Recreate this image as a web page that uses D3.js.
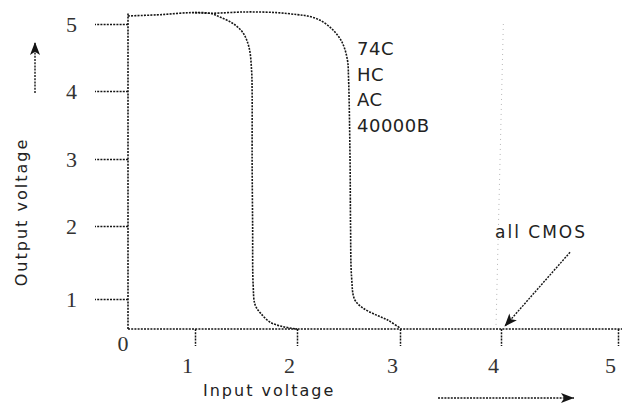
<!DOCTYPE html>
<html><head><meta charset="utf-8">
<script src="https://cdn.jsdelivr.net/npm/d3@7"></script>
<style>body{margin:0;background:#fff} svg{display:block}</style>
</head><body><svg id="c" width="629" height="407"></svg>
<script>
// ---- data ----
const xTicks = [1, 2, 3, 4, 5];
const yTicks = [1, 2, 3, 4, 5];
const xTitle = "Input voltage";
const yTitle = "Output voltage";
const familyLabels = ["74C", "HC", "AC", "40000B"];
const cmosLabel = "all CMOS";
// left transfer curve (input V, output V)
const leftX = [1.0, 1.15, 1.25, 1.37, 1.47, 1.53, 1.555, 1.56, 1.56, 1.565, 1.57, 1.59, 1.65, 1.74, 1.86, 2.0];
const leftY = [5.17, 5.16, 5.1, 5.01, 4.87, 4.65, 4.3, 4.0, 3.0, 2.0, 1.2, 0.8, 0.5, 0.22, 0.08, 0.0];
// right transfer curve (input V, output V)
const rightX = [0, 0.5, 0.95, 1.15, 1.5, 1.8, 2.0, 2.1, 2.22, 2.35, 2.44, 2.49, 2.5, 2.515, 2.52, 2.53, 2.56, 2.64, 2.76, 2.88, 3.0];
const rightY = [5.12, 5.14, 5.17, 5.16, 5.18, 5.17, 5.14, 5.12, 5.06, 4.91, 4.72, 4.46, 4.21, 3.0, 2.0, 1.3, 0.98, 0.7, 0.48, 0.3, 0.03];
// "all CMOS" threshold guide and pointer
const guideX = [4.02, 3.95];
const guideY = [5.0, 0.0];
const pointerX = [4.59, 4.03];
const pointerY = [1.64, 0.08];

// ---- drawing ----
const svg = d3.select("#c");
const x = d3.scaleLinear().domain([0, 1, 2, 3, 4, 5]).range([128, 195, 297, 400, 501, 618]);
const y = d3.scaleLinear().domain([0, 1, 2, 3, 4, 5]).range([329, 299, 226, 159, 91, 24]);

const ink = "#151515";
const dash = "2,1.2";

function arrow(x1, y1, x2, y2) {
  svg.append("line").attr("x1", x1).attr("y1", y1).attr("x2", x2).attr("y2", y2)
    .attr("stroke", ink).attr("stroke-width", 1.4).attr("stroke-dasharray", dash);
  const a = Math.atan2(y2 - y1, x2 - x1), L = 13, W = 5;
  const bx = x2 - L * Math.cos(a), by = y2 - L * Math.sin(a);
  const px = -Math.sin(a) * W, py = Math.cos(a) * W;
  const mx = x2 - L * 0.75 * Math.cos(a), my = y2 - L * 0.75 * Math.sin(a);
  svg.append("path")
    .attr("d", `M${x2},${y2}L${bx + px},${by + py}L${mx},${my}L${bx - px},${by - py}Z`)
    .attr("fill", ink);
}

// guide line
svg.append("line")
  .attr("x1", x(guideX[0])).attr("y1", y(guideY[0]))
  .attr("x2", x(guideX[1])).attr("y2", y(guideY[1]))
  .attr("stroke", "#b8b8b8").attr("stroke-width", 1).attr("stroke-dasharray", "1,4");

// axes
const fmt = d3.format("d");
const xAxis = d3.axisBottom(x).tickValues(xTicks).tickFormat(fmt).tickSize(17).tickPadding(11).tickSizeOuter(0);
const gx = svg.append("g").attr("transform", `translate(0,${y(0)})`).call(xAxis);
const yAxis = d3.axisLeft(y).tickValues(yTicks).tickFormat(fmt).tickSize(33).tickPadding(18).tickSizeOuter(0);
const gy = svg.append("g").attr("transform", `translate(${x(0)},0)`).call(yAxis);
[gx, gy].forEach(g => {
  g.select(".domain").remove();
  g.selectAll(".tick line").attr("stroke", ink).attr("stroke-width", 1.5).attr("stroke-dasharray", dash);
  g.selectAll(".tick text").attr("font-family", "Liberation Serif, serif").attr("font-size", 22).attr("fill", "#333");
});
gx.selectAll(".tick text").attr("dx", -8);
// axis lines
svg.append("line").attr("x1", x(0)).attr("x2", x(5) + 4).attr("y1", y(0)).attr("y2", y(0))
  .attr("stroke", ink).attr("stroke-width", 1.6).attr("stroke-dasharray", dash);
svg.append("line").attr("x1", x(0)).attr("x2", x(0)).attr("y1", y(0)).attr("y2", y(5.17))
  .attr("stroke", ink).attr("stroke-width", 1.6).attr("stroke-dasharray", dash);
// origin label
svg.append("text").attr("x", x(0) - 5).attr("y", y(0) + 22).attr("text-anchor", "middle")
  .attr("font-family", "Liberation Serif, serif").attr("font-size", 22).attr("fill", "#333").text(fmt(0));

// curves
const line = d3.line().x(d => x(d[0])).y(d => y(d[1])).curve(d3.curveCatmullRom.alpha(0.5));
[[rightX, rightY], [leftX, leftY]].forEach(([xs, ys]) => {
  svg.append("path").datum(xs.map((v, i) => [v, ys[i]])).attr("d", line)
    .attr("fill", "none").attr("stroke", ink).attr("stroke-width", 1.6).attr("stroke-dasharray", dash);
});

// family labels
svg.append("g").selectAll("text").data(familyLabels).join("text")
  .attr("x", 357).attr("y", (d, i) => 55 + i * 25.7)
  .attr("font-family", "DejaVu Sans, sans-serif").attr("font-size", 18).attr("letter-spacing", 0.5)
  .attr("fill", "#222").text(d => d);

// all CMOS
svg.append("text").attr("x", 495).attr("y", 238)
  .attr("font-family", "DejaVu Sans, sans-serif").attr("font-size", 17).attr("letter-spacing", 2)
  .attr("fill", "#222").text(cmosLabel);
arrow(x(pointerX[0]), y(pointerY[0]), x(pointerX[1]), y(pointerY[1]));

// titles
svg.append("text").attr("x", 203).attr("y", 396)
  .attr("font-family", "DejaVu Sans, sans-serif").attr("font-size", 16).attr("letter-spacing", 2)
  .attr("fill", "#222").text(xTitle);
svg.append("text").attr("transform", "translate(27,212) rotate(-90)").attr("text-anchor", "middle")
  .attr("font-family", "DejaVu Sans, sans-serif").attr("font-size", 16).attr("letter-spacing", 2)
  .attr("fill", "#222").text(yTitle);

// direction arrows
arrow(35, 93, 35, 42);
arrow(438, 398, 574, 398);
</script></body></html>
